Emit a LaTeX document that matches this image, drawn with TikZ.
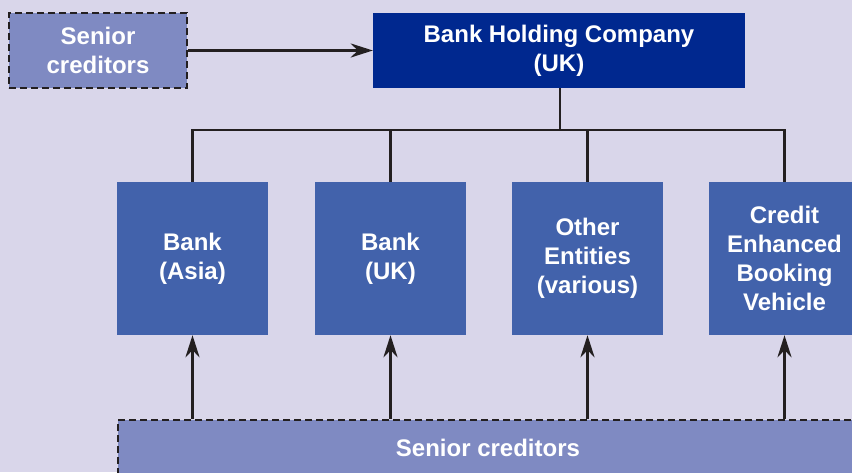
\documentclass[tikz,border=0pt]{standalone}
\usepackage{fontspec}
\setmainfont{Liberation Sans}
\usetikzlibrary{arrows.meta}
\definecolor{bgc}{HTML}{D9D6EA}
\definecolor{darkb}{HTML}{00288F}
\definecolor{midb}{HTML}{4262AB}
\definecolor{credb}{HTML}{7F8AC2}
\definecolor{linec}{HTML}{231F20}
\tikzset{
  boxtext/.style={text=white, font=\fontsize{24}{29}\selectfont\bfseries, align=center, inner sep=0pt},
  credbox/.style={boxtext, fill=credb, draw=linec, line width=2.4pt, dash pattern=on 7pt off 4pt},
  topbox/.style={boxtext, fill=darkb},
  entbox/.style={boxtext, fill=midb, minimum width=151pt, minimum height=153pt},
  conn/.style={draw=linec, line width=2.6pt},
  arr/.style={conn, -{Stealth[length=22pt,width=14pt,inset=7pt]}}
}
\begin{document}
\begin{tikzpicture}[x=1pt,y=-1pt]
\useasboundingbox (0,0) rectangle (852,472);
\fill[bgc] (0,0) rectangle (852,472);
\clip (0,0) rectangle (852,472);
\node[credbox, minimum width=178pt, minimum height=75pt] (sc1) at (98,50.5) {Senior\\creditors};
\node[topbox, minimum width=372pt, minimum height=75pt] (bhc) at (559,50.5) {Bank Holding Company\\(UK)};
\node[entbox] (asia) at (192.5,258.5) {Bank\\(Asia)};
\node[entbox] (ukb) at (390.5,258.5) {Bank\\(UK)};
\node[entbox] (oth) at (587.5,258.5) {Other\\Entities\\(various)};
\node[entbox] (cebv) at (784.5,258.5) {Credit\\Enhanced\\Booking\\Vehicle};
\node[credbox, minimum width=740pt, minimum height=56pt] (sc2) at (488,448) {Senior creditors};
\coordinate (bus) at (560,130);
\draw[arr] (sc1.east) -- (bhc.west);
\draw[conn] (bhc.south -| bus) -- (bus);
\draw[conn, line cap=rect] (asia.north |- bus) -- (cebv.north |- bus);
\draw[conn] (asia.north |- bus) -- (asia.north);
\draw[conn] (ukb.north |- bus) -- (ukb.north);
\draw[conn] (oth.north |- bus) -- (oth.north);
\draw[conn] (cebv.north |- bus) -- (cebv.north);
\draw[arr] (asia.south |- sc2.north) -- (asia.south);
\draw[arr] (ukb.south |- sc2.north) -- (ukb.south);
\draw[arr] (oth.south |- sc2.north) -- (oth.south);
\draw[arr] (cebv.south |- sc2.north) -- (cebv.south);
\end{tikzpicture}
\end{document}
